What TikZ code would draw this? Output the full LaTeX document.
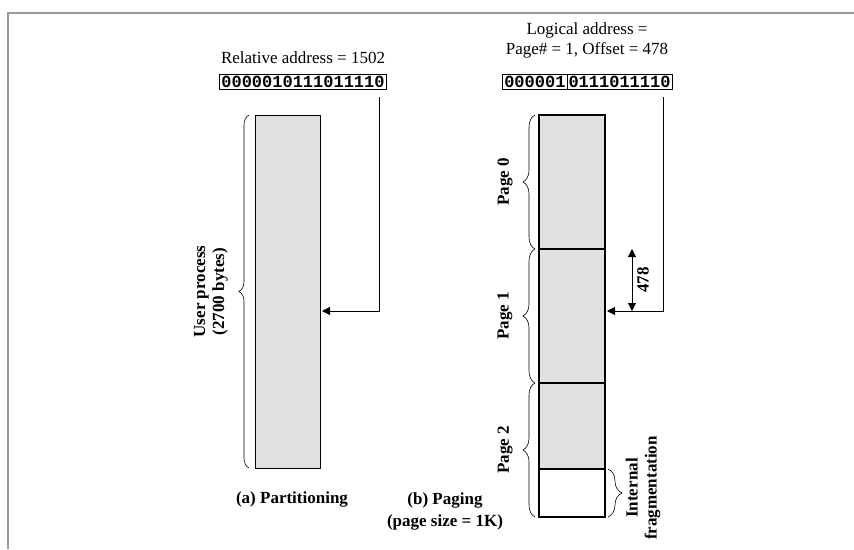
\documentclass[tikz,border=0pt]{standalone}
\usepackage{fontspec}
\setmainfont{Liberation Serif}
\setmonofont{Liberation Mono}
\usepackage{xcolor}
\usetikzlibrary{arrows.meta,positioning,calc,decorations.pathreplacing}
\definecolor{FrameGray}{HTML}{9A9A9A}
\definecolor{MemGray}{HTML}{E0E0E0}

\begin{document}
\begin{tikzpicture}[
    x=1pt, y=-1pt,
    font=\fontsize{17}{20}\selectfont,
    every node/.style={inner sep=0pt, outer sep=0pt},
    membox/.style={draw, fill=MemGray, minimum width=66pt, line width=1.4pt},
    bits/.style={draw, line width=0.8pt, font=\fontsize{17}{17}\selectfont\ttfamily\bfseries,
      minimum height=15pt, inner xsep=1.5pt},
    side/.style={rotate=90, align=center, font=\fontsize{17}{19}\selectfont\bfseries},
    caption/.style={align=center, font=\fontsize{17}{22}\selectfont\bfseries},
    brc/.style={decorate, decoration={brace, amplitude=#1}, line width=0.6pt},
    ptr/.style={draw, line width=0.8pt, -{Triangle[length=8pt, width=8pt]}},
    dim/.style={draw, line width=0.8pt, {Triangle[length=8pt, width=8pt]}-{Triangle[length=8pt, width=8pt]}}
  ]
    \useasboundingbox (0,0) rectangle (854,549);
    \draw[FrameGray, line width=2pt] (8,549) -- (8,13) -- (854,13);

    \node[membox, line width=0.9pt, minimum width=65pt, minimum height=353pt, anchor=north west] (part) at (255,115) {};
    \node (reltxt) at (303,58) {Relative address = 1502};
    \node[bits] (relbits) at (303,81.5) {0000010111011110};
    \coordinate (relfrom) at ($(relbits.south east)+(-7,8)$);
    \coordinate (relhit) at ($(part.north east)+(2,196)$);
    \draw[ptr] (relfrom) |- (relhit);
    \draw[brc=10pt] ($(part.south west)+(-6,0)$) -- ($(part.north west)+(-6,0)$);
    \node[side] (userlbl) at ($(part.west)+(-44,0)$) {User process\\(2700 bytes)};
    \node[caption] (capa) at (292,499) {(a) Partitioning};

    \node[membox, minimum height=134pt, anchor=north west] (page0) at (539,115) {};
    \node[membox, minimum height=134pt, below=0pt of page0] (page1) {};
    \node[membox, minimum height=86pt, below=0pt of page1] (page2) {};
    \node[membox, fill=white, minimum height=48pt, below=0pt of page2] (frag) {};
    \node[align=center] (logtxt) at (587,40) {Logical address =\\Page\# = 1, Offset = 478};
    \node[bits, anchor=east] (pgbits) at (567,81.5) {000001};
    \node[bits, right=0pt of pgbits] (offbits) {0111011110};
    \coordinate (pgfrom) at ($(offbits.south east)+(-9,8)$);
    \coordinate (pghit) at ($(page1.north east)+(2,62)$);
    \draw[ptr] (pgfrom) |- (pghit);
    \coordinate (dimtop) at ($(page1.north east)+(27,0)$);
    \coordinate (dimbot) at ($(page1.north east)+(27,62)$);
    \draw[dim] (dimtop) -- (dimbot);
    \node[side] (offlbl) at ($(dimtop)!0.5!(dimbot)+(11,0)$) {478};

    \draw[brc=12pt] ($(page0.south west)+(-4,0)$) -- ($(page0.north west)+(-4,0)$);
    \draw[brc=12pt] ($(page1.south west)+(-4,0)$) -- ($(page1.north west)+(-4,0)$);
    \draw[brc=12pt] ($(frag.south west)+(-4,0)$) -- ($(page2.north west)+(-4,0)$);
    \node[side] (p0lbl) at ($(page0.west)+(-34,0)$) {Page 0};
    \node[side] (p1lbl) at ($(page1.west)+(-34,0)$) {Page 1};
    \node[side] (p2lbl) at ($(page2.north west)!0.5!(frag.south west)+(-34,0)$) {Page 2};
    \draw[brc=14pt] ($(frag.north east)+(3,0)$) -- ($(frag.south east)+(3,0)$);
    \node[side] (fraglbl) at ($(frag.east)+(38,-5)$) {Internal\\fragmentation};
    \node[caption] (capb) at (445,511) {(b) Paging\\(page size = 1K)};
\end{tikzpicture}
\end{document}
